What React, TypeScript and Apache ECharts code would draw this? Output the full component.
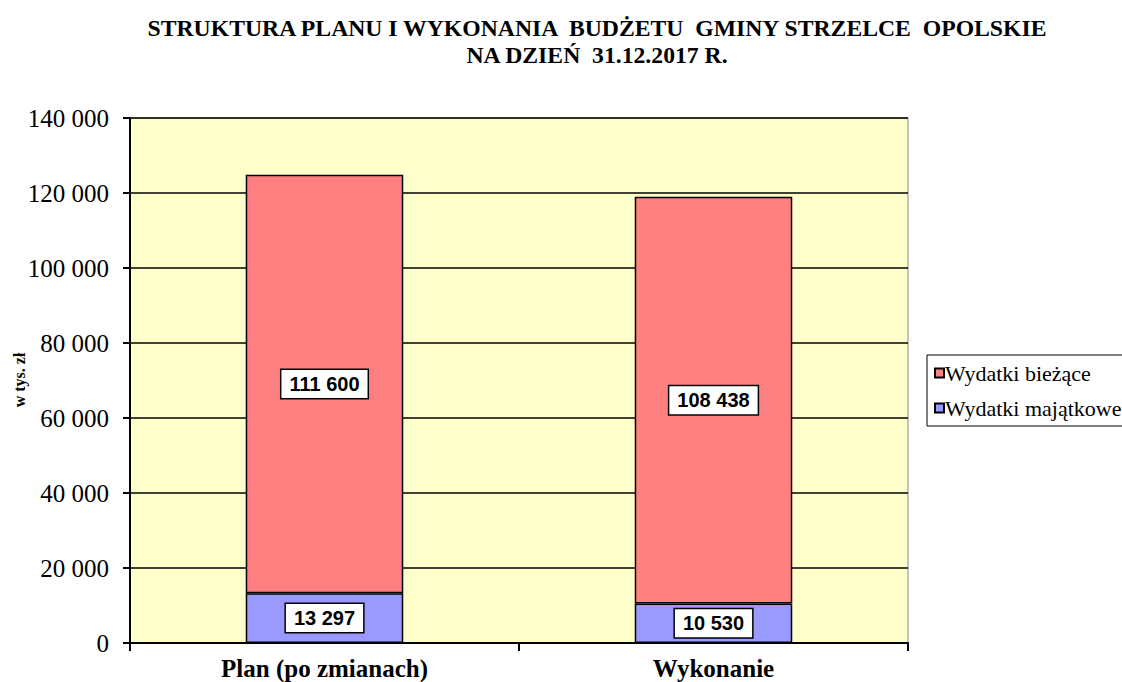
import React, { useEffect, useRef } from "react";
import * as echarts from "echarts";

const categories = ["Plan (po zmianach)", "Wykonanie"];
const wydatkiMajatkowe = [13297, 10530];
const wydatkiBiezace = [111600, 108438];
const seriesNames = ["Wydatki bieżące", "Wydatki majątkowe"];
const titleLines = [
  "STRUKTURA PLANU I WYKONANIA  BUDŻETU  GMINY STRZELCE  OPOLSKIE",
  "NA DZIEŃ  31.12.2017 R.",
];
const yAxisName = "w tys. zł";

const SERIF = "'Liberation Serif', 'Times New Roman', serif";
const SANS = "'Liberation Sans', Arial, sans-serif";

const fmt = (v: number) => {
  const s = Math.round(v).toString();
  return s.replace(/\B(?=(\d{3})+(?!\d))/g, " ");
};

export default function App() {
  const ref = useRef<HTMLDivElement>(null);
  useEffect(() => {
    if (!ref.current) return;
    const chart = echarts.init(ref.current, undefined, { renderer: "svg" });
    const labelStyle = {
      show: true,
      position: "inside" as const,
      formatter: (p: any) => fmt(p.value),
      backgroundColor: "#ffffff",
      borderColor: "#000000",
      borderWidth: 1.5,
      padding: [5, 8, 3, 8],
      color: "#000",
      fontFamily: SANS,
      fontWeight: "bold" as const,
      fontSize: 20,
    };
    chart.setOption({
      animation: false,
      backgroundColor: "#ffffff",
      title: {
        text: titleLines.join("\n"),
        left: 592,
        textAlign: "center",
        top: 9,
        textStyle: {
          fontFamily: SERIF,
          fontWeight: "bold",
          fontSize: 23.7,
          lineHeight: 27,
          color: "#000",
        },
      },
      graphic: [
        {
          type: "text",
          x: 19,
          y: 380,
          rotation: Math.PI / 2,
          style: {
            text: yAxisName,
            align: "center",
            verticalAlign: "middle",
            fontFamily: SERIF,
            fontWeight: "bold",
            fontSize: 16,
            fill: "#000",
          },
        },
      ],
      legend: {
        data: seriesNames,
        orient: "vertical",
        left: 927,
        top: 355,
        icon: "rect",
        itemWidth: 9,
        itemHeight: 9,
        itemGap: 13,
        padding: [7, 10, 7, 7],
        borderColor: "#000",
        borderWidth: 1,
        backgroundColor: "#fff",
        textStyle: {
          fontFamily: SERIF,
          fontSize: 22,
          color: "#000",
          padding: [0, 0, 0, -4],
        },
      },
      grid: {
        left: 130,
        right: 214,
        top: 118,
        bottom: 39,
        containLabel: false,
        outerBoundsMode: "none",
        show: true,
        backgroundColor: "#FFFFCC",
        borderColor: "#888",
        borderWidth: 1,
      },
      xAxis: {
        type: "category",
        data: categories,
        axisLine: { lineStyle: { color: "#000", width: 2 } },
        axisTick: { show: true, length: 8, lineStyle: { color: "#000", width: 2 } },
        axisLabel: {
          fontFamily: SERIF,
          fontWeight: "bold",
          fontSize: 25,
          color: "#000",
          margin: 13,
        },
      },
      yAxis: {
        type: "value",
        min: 0,
        max: 140000,
        interval: 20000,
        axisLine: { show: true, lineStyle: { color: "#000", width: 2 } },
        axisTick: { show: true, length: 7, lineStyle: { color: "#000", width: 2 } },
        splitLine: { show: true, lineStyle: { color: "#000", width: 1.5 } },
        axisLabel: {
          formatter: (v: number) => fmt(v),
          fontFamily: SERIF,
          fontSize: 25,
          color: "#000",
          margin: 21,
        },
      },
      series: [
        {
          name: seriesNames[1],
          type: "bar",
          stack: "total",
          data: wydatkiMajatkowe,
          barWidth: "40.5%",
          itemStyle: { color: "#9999FF", borderColor: "#000", borderWidth: 1.5 },
          label: labelStyle,
        },
        {
          name: seriesNames[0],
          type: "bar",
          stack: "total",
          data: wydatkiBiezace,
          barWidth: "40.5%",
          itemStyle: { color: "#FF8080", borderColor: "#000", borderWidth: 1.5 },
          label: labelStyle,
        },
      ],
    });
    return () => chart.dispose();
  }, []);
  return (
    <div
      ref={ref}
      style={{ position: "absolute", left: 0, top: 0, width: 1122, height: 682 }}
    />
  );
}
